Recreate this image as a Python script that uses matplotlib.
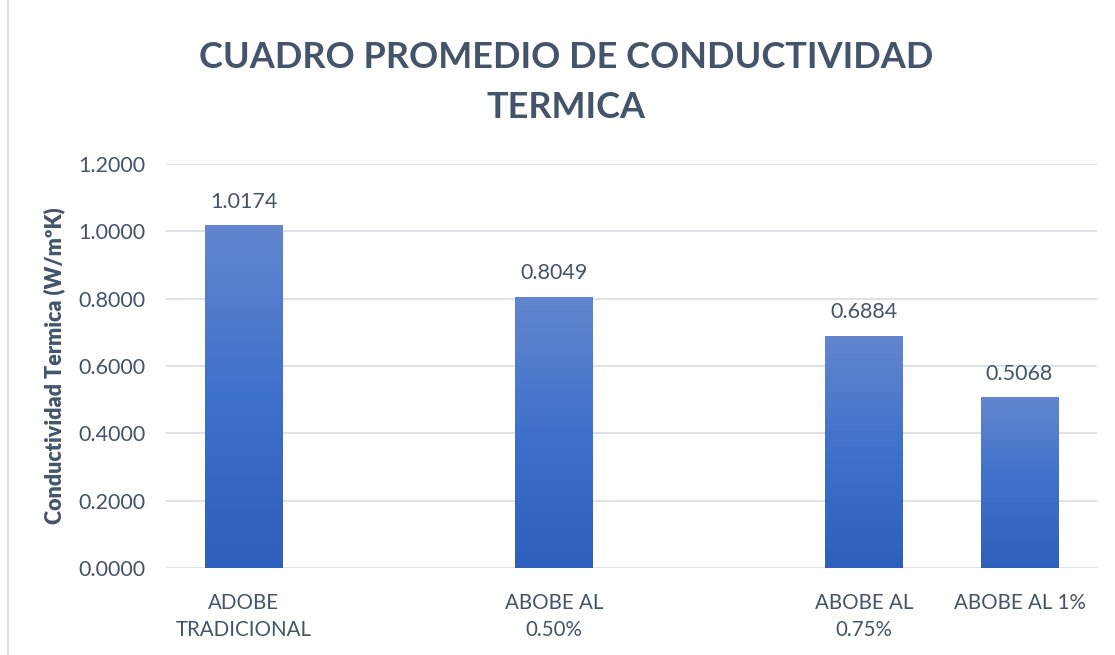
import numpy as np
import matplotlib.pyplot as plt
from matplotlib.colors import LinearSegmentedColormap
from matplotlib.patches import Rectangle

plt.rcParams['font.family'] = ['Lato', 'DejaVu Sans']

categories = ['ADOBE\nTRADICIONAL', 'ABOBE AL\n0.50%', 'ABOBE AL\n0.75%', 'ABOBE AL 1%']
positions = [0, 2, 4, 5]
values = [1.0174, 0.8049, 0.6884, 0.5068]
yticks = [0.0, 0.2, 0.4, 0.6, 0.8, 1.0, 1.2]

txt = '#44546A'
grid = '#D9DDE3'
cmap = LinearSegmentedColormap.from_list('barfill', ['#2E5FBC', '#3F70CB', '#6286CF'])

fig = plt.figure(figsize=(11.15, 6.55), dpi=100)
ax = fig.add_axes([0.1489, 0.1328, 0.835, 0.6168])

bars = ax.bar(positions, values, width=0.5, color='none', edgecolor='none', zorder=3)
grad = np.linspace(0, 1, 256).reshape(-1, 1)
for b in bars:
    x0, y0 = b.get_x(), b.get_y()
    w, h = b.get_width(), b.get_height()
    im = ax.imshow(grad, cmap=cmap, aspect='auto', origin='lower',
                   extent=[x0, x0 + w, y0, y0 + h], zorder=3)
    im.set_clip_path(b)

for x, v in zip(positions, values):
    ax.annotate(f'{v:.4f}', (x, v), xytext=(0, 10), textcoords='offset points',
                ha='center', va='bottom', fontsize=15.5, color=txt)

ax.set_xlim(-0.5, 5.5)
ax.set_ylim(0, 1.2)
ax.set_yticks(yticks)
ax.set_yticklabels([f'{t:.4f}' for t in yticks])
ax.set_xticks(positions)
ax.set_xticklabels(categories, linespacing=1.45)
ax.tick_params(axis='both', length=0, labelsize=15.5, labelcolor=txt)
ax.tick_params(axis='x', labelsize=14.8, pad=18)
ax.tick_params(axis='y', pad=15)
ax.grid(axis='y', color=grid, linewidth=1.2, zorder=0)
ax.set_axisbelow(True)
for s in ax.spines.values():
    s.set_visible(False)

ax.set_ylabel('Conductividad Termica (W/mºK)', fontsize=15.5, fontweight='heavy',
              color=txt, labelpad=9)

fig.text(0.508, 0.912, 'CUADRO PROMEDIO DE CONDUCTIVIDAD', ha='center', va='center',
         fontsize=26, fontweight='bold', color=txt)
fig.text(0.508, 0.836, 'TERMICA', ha='center', va='center',
         fontsize=26, fontweight='bold', color=txt)

fig.patches.append(Rectangle((0.007, -0.01), 0.995, 1.02, transform=fig.transFigure,
                             fill=False, edgecolor='#D9D9D9', linewidth=1.2))

fig.savefig('out.png', dpi=100)
